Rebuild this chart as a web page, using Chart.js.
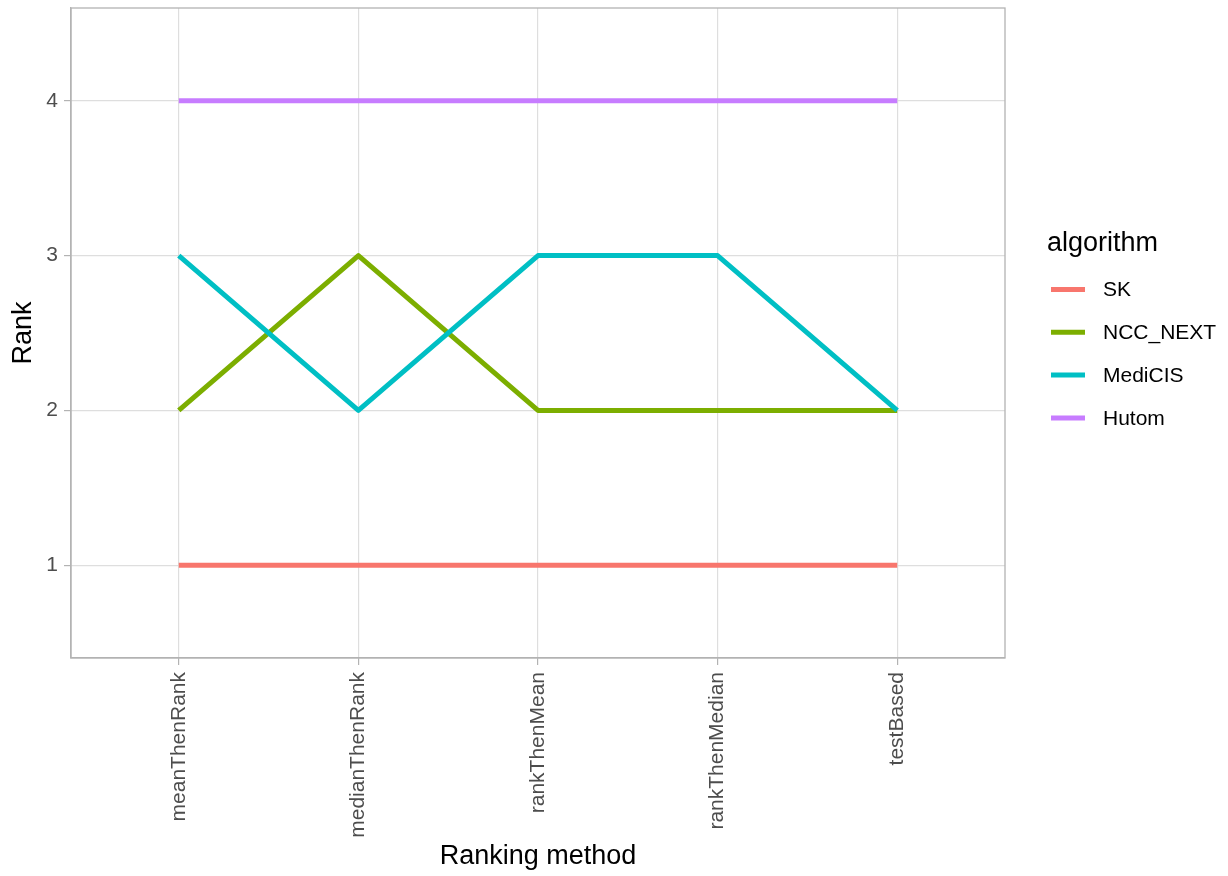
<!DOCTYPE html>
<html lang="en">
<head>
    <meta charset="UTF-8">
    <title>Rank par méthode</title>
    <script src="https://cdn.jsdelivr.net/npm/chart.js@4.4.0/dist/chart.umd.min.js"></script>
    <style>
        html, body { margin: 0; padding: 0; background: #fff; }
        #wrap { width: 1228px; height: 876px; }
    </style>
</head>
<body>
<div id="wrap"><canvas id="myChart"></canvas></div>
<script>

    // Données
    let methodes = ['meanThenRank', 'medianThenRank', 'rankThenMean', 'rankThenMedian', 'testBased'];
    let algorithmes = ['SK', 'NCC_NEXT', 'MediCIS', 'Hutom'];
    let rangSK = [1, 1, 1, 1, 1];
    let rangNCC = [2, 3, 2, 2, 2];
    let rangMediCIS = [3, 2, 3, 3, 2];
    let rangHutom = [4, 4, 4, 4, 4];
    let ticksRang = [1, 2, 3, 4];
    let couleurs = ['#F8766D', '#7CAE00', '#00BFC4', '#C77CFF'];

    let police = "'Liberation Sans', Arial, sans-serif";

    let series = [rangSK, rangNCC, rangMediCIS, rangHutom];
    let datasets = series.map((valeurs, i) => {
        return {
            label: algorithmes[i],
            data: valeurs.map((v, j) => ({x: j, y: v})),
            borderColor: couleurs[i],
            backgroundColor: couleurs[i],
            borderWidth: 5,
            borderJoinStyle: 'round',
            pointRadius: 0,
            tension: 0,
            order: series.length - i
        };
    });

    // légende façon ggplot + bordure du panneau
    let legendeGG = {
        id: 'legendeGG',
        afterDraw: (chart) => {
            let ctx = chart.ctx;
            let zone = chart.chartArea;
            ctx.save();
            ctx.strokeStyle = '#B3B3B3';
            ctx.lineWidth = 1.3;
            ctx.strokeRect(zone.left, zone.top, zone.right - zone.left, zone.bottom - zone.top);

            let x0 = zone.right + 42;
            ctx.fillStyle = '#000';
            ctx.font = '27px ' + police;
            ctx.textBaseline = 'alphabetic';
            ctx.textAlign = 'left';
            ctx.fillText('algorithm', x0, 251);

            ctx.font = '21px ' + police;
            ctx.textBaseline = 'middle';
            chart.data.datasets.forEach((ds, i) => {
                let y = 289.5 + i * 42.8;
                ctx.strokeStyle = ds.borderColor;
                ctx.lineWidth = 5;
                ctx.lineCap = 'butt';
                ctx.beginPath();
                ctx.moveTo(x0 + 4, y);
                ctx.lineTo(x0 + 38, y);
                ctx.stroke();
                ctx.fillStyle = '#000';
                ctx.fillText(ds.label, x0 + 56, y + 1);
            });
            ctx.restore();
        }
    };

    let ctx = document.getElementById('myChart').getContext('2d');
    let chart = new Chart(ctx, {
        type: 'line',
        data: { datasets: datasets },
        options: {
            responsive: true,
            maintainAspectRatio: false,
            animation: false,
            layout: { padding: { top: 8, right: 223, left: 0, bottom: 0 } },
            plugins: {
                legend: { display: false },
                tooltip: { enabled: false }
            },
            scales: {
                x: {
                    type: 'linear',
                    min: -0.6,
                    max: 4.6,
                    afterBuildTicks: (scale) => {
                        scale.ticks = methodes.map((m, i) => ({value: i}));
                    },
                    afterFit: (scale) => {
                        scale.height = 218;
                        scale.paddingLeft = 0;
                        scale.paddingRight = 0;
                    },
                    ticks: {
                        callback: (v) => methodes[v],
                        minRotation: 90,
                        maxRotation: 90,
                        autoSkip: false,
                        padding: 7,
                        color: '#4D4D4D',
                        font: { family: police, size: 21 }
                    },
                    grid: { color: '#DEDEDE', lineWidth: 1.2, tickLength: 7, tickColor: '#B3B3B3' },
                    border: { color: '#B3B3B3', width: 1.3 },
                    title: {
                        display: true,
                        text: 'Ranking method',
                        color: '#000',
                        font: { family: police, size: 27 },
                        padding: { top: 0, bottom: 3 }
                    }
                },
                y: {
                    min: 0.4,
                    max: 4.6,
                    afterBuildTicks: (scale) => {
                        scale.ticks = ticksRang.map(v => ({value: v}));
                    },
                    afterFit: (scale) => {
                        scale.width = 71;
                        scale.paddingTop = 0;
                        scale.paddingBottom = 0;
                    },
                    ticks: {
                        padding: 6,
                        color: '#4D4D4D',
                        font: { family: police, size: 21 }
                    },
                    grid: { color: '#DEDEDE', lineWidth: 1.2, tickLength: 7, tickColor: '#B3B3B3' },
                    border: { color: '#B3B3B3', width: 1.3 },
                    title: {
                        display: true,
                        text: 'Rank',
                        color: '#000',
                        font: { family: police, size: 27 },
                        padding: { top: 7, bottom: 0 }
                    }
                }
            }
        },
        plugins: [legendeGG]
    });

</script>
</body>
</html>
